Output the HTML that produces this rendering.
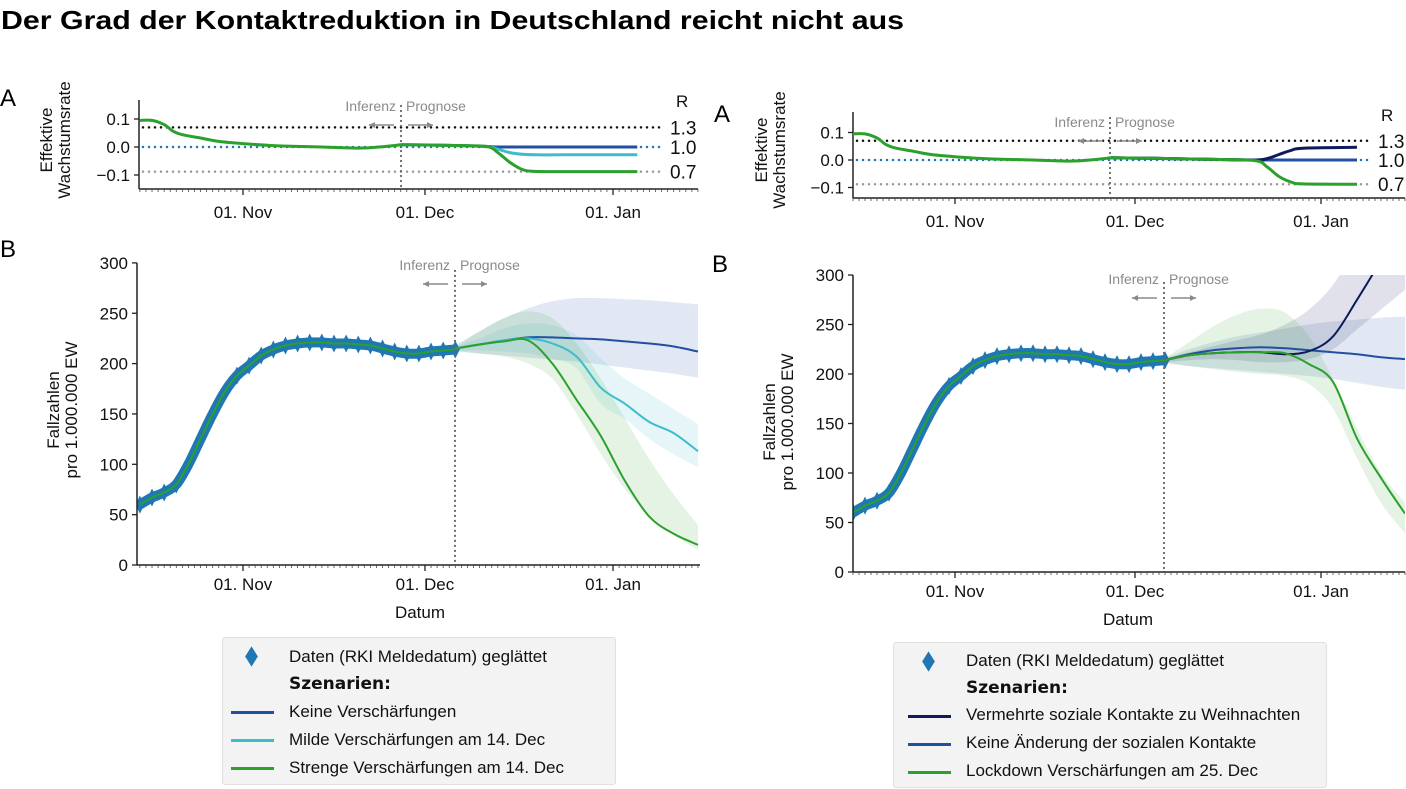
<!DOCTYPE html>
<html><head><meta charset="utf-8">
<style>
body{margin:0;background:#fff;width:1406px;height:789px;overflow:hidden;font-family:"Liberation Sans",sans-serif}
svg{position:absolute;left:0;top:0}
.legend{position:absolute;background:#f3f3f3;border:1px solid #e0e0e0;border-radius:3px;font-size:17px;color:#111}
.row{position:absolute;height:20px;line-height:20px;white-space:nowrap}
.sw{position:absolute;height:3px}
.dia{position:absolute;width:9px;height:9px;background:#1f77b4;transform:scaleY(1.6) rotate(45deg)}
</style></head><body>
<svg id="chart" width="1406" height="789"></svg>

<div class="legend" style="left:222px;top:637px;width:392px;height:146px">
 <div class="dia" style="left:24px;top:14px"></div>
 <div class="row" style="left:66px;top:9px">Daten (RKI Meldedatum) geglättet</div>
 <div class="row" style="left:66px;top:36px;font-family:'DejaVu Sans',sans-serif;font-weight:bold;font-size:17px">Szenarien:</div>
 <div class="sw" style="left:8px;top:73px;width:43px;background:#2150a3"></div>
 <div class="row" style="left:66px;top:64px">Keine Verschärfungen</div>
 <div class="sw" style="left:8px;top:101px;width:43px;background:#3cbccc"></div>
 <div class="row" style="left:66px;top:92px">Milde Verschärfungen am 14. Dec</div>
 <div class="sw" style="left:8px;top:129px;width:43px;background:#2ca02c"></div>
 <div class="row" style="left:66px;top:120px">Strenge Verschärfungen am 14. Dec</div>
</div>

<div class="legend" style="left:893px;top:642px;width:432px;height:144px">
 <div class="dia" style="left:30px;top:14px"></div>
 <div class="row" style="left:72px;top:8px">Daten (RKI Meldedatum) geglättet</div>
 <div class="row" style="left:72px;top:35px;font-family:'DejaVu Sans',sans-serif;font-weight:bold;font-size:17px">Szenarien:</div>
 <div class="sw" style="left:14px;top:72px;width:43px;background:#0d1b5c"></div>
 <div class="row" style="left:72px;top:62px">Vermehrte soziale Kontakte zu Weihnachten</div>
 <div class="sw" style="left:14px;top:100px;width:43px;background:#2150a3"></div>
 <div class="row" style="left:72px;top:90px">Keine Änderung der sozialen Kontakte</div>
 <div class="sw" style="left:14px;top:128px;width:43px;background:#2ca02c"></div>
 <div class="row" style="left:72px;top:118px">Lockdown Verschärfungen am 25. Dec</div>
</div>

<script>
// ---- data (day index: 0 = 15. Oct) ----
const obsDays = [0,2,4,6,8,10,12,14,16,18,20,22,24,26,28,30,32,34,36,38,40,42,44,46,48,50,52];
const obsCases = [60,67,72,80,100,125,150,172,188,198,208,214,218,220,221,221,220,220,219,218,215,212,210,210,212,213,214];
const infDays = [0,2,4,5.5,7,10,13,17,22,30,36,40,43];
const infRate = [0.095,0.095,0.08,0.056,0.044,0.032,0.02,0.012,0.005,0,-0.004,0.001,0.008];

const fDays = [52,56,60,64,68,72,76,80,84,88,92];
const keineL = [215,219,223,226,226,225,224,222,220,217,212];
const mildeL = [215,219,223,225,220,207,176,160,142,131,113];
const strengeL = [215,219,222,223,200,164,128,83,48,31,20];
const keineLUp = [218,232,245,255,262,265,265,264,263,261,259];
const keineLLo = [212,210,208,206,204,202,199,196,193,190,186];
const mildeLUp = [217,225,235,240,238,228,205,185,170,155,140];
const mildeLLo = [213,213,212,210,205,195,160,145,125,110,97];
const strengeLUp = [217,232,245,252,245,220,185,145,105,70,40];
const strengeLLo = [213,210,207,200,185,150,110,75,50,30,15];

const keineR = [214,220,224,226,227,226,224,222,220,217,215];
const navyR = [214,219,221,222,222,220,223,238,275,315,360];
const lockR = [214,219,221,222,222,221,210,192,135,95,59];
const keineRUp = [216,225,232,238,242,246,250,253,255,257,258];
const keineRLo = [211,208,206,204,202,200,198,195,191,187,184];
const navyRUp = [216,222,228,234,240,250,265,290,330,380,420];
const navyRLo = [212,214,215,214,212,212,215,225,245,265,285];
const lockRUp = [216,232,248,260,266,262,238,195,145,100,70];
const lockRLo = [212,208,205,202,200,198,190,165,115,70,39];

const rateDaysL = [43,50,57,59,61,63,65,70,82];
const keineAL = [0.008,0.006,0.002,0,0,0,0,0,0];
const mildeAL = [0.008,0.006,0.002,-0.008,-0.02,-0.026,-0.028,-0.028,-0.028];
const strengeAL = [0.008,0.006,0.002,-0.02,-0.055,-0.08,-0.087,-0.088,-0.088];
const rateDaysR = [43,50,60,67,69,71,73,75,84];
const keineAR = [0.008,0.006,0.002,0,0,0,0,0,0];
const navyAR = [0.008,0.006,0.002,0,0.005,0.02,0.035,0.043,0.046];
const lockAR = [0.008,0.006,0.002,-0.002,-0.025,-0.06,-0.08,-0.087,-0.088];

const rRefRates = [0.07,0,-0.088];
const rRefLabels = ['1.3','1.0','0.7'];
const caseTicks = [0,50,100,150,200,250,300];
const rateTicks = [0.1,0,-0.1];
const rateTickLabels = ['0.1','0.0','\u22120.1'];
const monthDays = [17,47,78];
const monthLabels = ['01. Nov','01. Dec','01. Jan'];

// ---- helpers ----
const NS='http://www.w3.org/2000/svg';
const svg=document.getElementById('chart');
function el(tag,attrs,parent){const e=document.createElementNS(NS,tag);for(const k in attrs)e.setAttribute(k,attrs[k]);(parent||svg).appendChild(e);return e;}
function txt(s,attrs,parent){const e=el('text',attrs,parent);e.textContent=s;return e;}
function pathD(pts){
  let d='M'+pts[0][0].toFixed(1)+','+pts[0][1].toFixed(1);
  for(let i=0;i<pts.length-1;i++){
    const p0=pts[Math.max(0,i-1)],p1=pts[i],p2=pts[i+1],p3=pts[Math.min(pts.length-1,i+2)];
    const c1=[p1[0]+(p2[0]-p0[0])/6,p1[1]+(p2[1]-p0[1])/6];
    const c2=[p2[0]-(p3[0]-p1[0])/6,p2[1]-(p3[1]-p1[1])/6];
    d+=' C'+c1[0].toFixed(1)+','+c1[1].toFixed(1)+' '+c2[0].toFixed(1)+','+c2[1].toFixed(1)+' '+p2[0].toFixed(1)+','+p2[1].toFixed(1);
  }
  return d;
}
function line(days,vals,X,Y,color,w,name,g){
  const p=el('path',{d:pathD(days.map((d,i)=>[X(d),Y(vals[i])])),fill:'none',stroke:color,'stroke-width':w,'stroke-linejoin':'round'},g);
  
  
  return p;
}
function band(days,up,lo,X,Y,color,op,name,g){
  const top=days.map((d,i)=>[X(d),Y(up[i])]);
  const bot=days.map((d,i)=>[X(d),Y(lo[i])]).reverse();
  const d=pathD(top)+' L'+pathD(bot).slice(1)+' Z';
  const p=el('path',{d:d,fill:color,'fill-opacity':op,stroke:'none'},g);
  
  
}
function xAxis(X,x0,x1,y,endDay,labelY,prefix){
  el('line',{x1:x0,y1:y,x2:x1,y2:y,stroke:'#222','stroke-width':1.5});
  for(let d=0;d<=endDay;d++){const x=X(d);if(x<x0||x>x1)continue;el('line',{x1:x,y1:y,x2:x,y2:y+3,stroke:'#444','stroke-width':0.8});}
  monthDays.forEach((d,i)=>{
    el('line',{x1:X(d),y1:y,x2:X(d),y2:y+6,stroke:'#222','stroke-width':1.3});
    const t=txt(monthLabels[i],{x:X(d),y:labelY,'text-anchor':'middle','font-size':17,fill:'#111'});
    
    
  });
}
function divider(x,y0,y1,ty,prefix){
  el('line',{x1:x,y1:y0,x2:x,y2:y1,stroke:'#666','stroke-width':2.2,'stroke-dasharray':'0 5','stroke-linecap':'round'});
  const a=txt('Inferenz',{x:x-5,y:ty,'text-anchor':'end','font-size':14,fill:'#8a8a8a'});
  
  
  const b=txt('Prognose',{x:x+5,y:ty,'font-size':14,fill:'#8a8a8a'});
  
  
  const ay=ty+14;
  el('line',{x1:x-7,y1:ay,x2:x-32,y2:ay,stroke:'#8a8a8a','stroke-width':1.5});
  el('path',{d:`M${x-32},${ay} l6,-3 v6 z`,fill:'#8a8a8a'});
  el('line',{x1:x+7,y1:ay,x2:x+32,y2:ay,stroke:'#8a8a8a','stroke-width':1.5});
  el('path',{d:`M${x+32},${ay} l-6,-3 v6 z`,fill:'#8a8a8a'});
}
function ylabel(lines,cx,cy,name){
  const g=el('g',{transform:`translate(${cx},${cy}) rotate(-90)`});
  
  
  lines.forEach((s,i)=>txt(s,{x:0,y:(i-(lines.length-1)/2)*18+6,'text-anchor':'middle','font-size':17,fill:'#111'},g));
}

// title
const title=txt('Der Grad der Kontaktreduktion in Deutschland reicht nicht aus',{x:1,y:29,'font-size':26,'font-weight':'bold',fill:'#000',textLength:903,lengthAdjust:'spacingAndGlyphs'});



// ---- rate panel ----
function ratePanel(o){
  const X=d=>o.xNov+(d-17)*o.pxDay, Y=v=>o.y0-v*o.pxUnit;
  const p=o.prefix;
  const pl=txt('A',{x:o.letterX,y:o.letterY,'font-size':24,fill:'#000'});
  
  
  ylabel(['Effektive','Wachstumsrate'],o.ylabX,o.ylabY,p+'-y-axis-title');
  const refCol=['#111','#1f77b4','#999'];
  rRefRates.forEach((r,i)=>{
    el('line',{x1:o.xl+4,y1:Y(r),x2:o.refEnd,y2:Y(r),stroke:refCol[i],'stroke-width':2.5,'stroke-dasharray':'0 6','stroke-linecap':'round'});
    const t=txt(rRefLabels[i],{x:o.refEnd+6,y:Y(r)+7,'font-size':19,fill:'#111'});
    
    
  });
  const rt=txt('R',{x:o.rX,y:o.rY,'font-size':17,fill:'#111'});
  
  
  el('line',{x1:o.xl,y1:o.yTop,x2:o.xl,y2:o.yBot,stroke:'#222','stroke-width':1.5});
  rateTicks.forEach((v,i)=>{
    el('line',{x1:o.xl-5,y1:Y(v),x2:o.xl,y2:Y(v),stroke:'#222','stroke-width':1.3});
    const t=txt(rateTickLabels[i],{x:o.xl-9,y:Y(v)+6,'text-anchor':'end','font-size':17,fill:'#111'});
    
    
  });
  xAxis(X,o.xl,o.xr,o.yBot,95,o.yBot+29,p);
  divider(o.divX,o.yTop+6,o.yBot,o.divTY,p);
  o.series.forEach(s=>line(o.days,s.v,X,Y,s.c,3,s.n));
  line(infDays,infRate,X,Y,'#2ca02c',3,p+'-inference-line');
}
ratePanel({prefix:'left-rate',xNov:243,pxDay:6.066,y0:147,pxUnit:280,xl:139,xr:698,yTop:100,yBot:189,refEnd:664,rX:676,rY:107,letterX:0,letterY:106,ylabX:55,ylabY:140,divX:401,divTY:111,days:rateDaysL,
  series:[{v:keineAL,c:'#2150a3',n:'rate-line-keine'},{v:mildeAL,c:'#3cbccc',n:'rate-line-milde'},{v:strengeAL,c:'#2ca02c',n:'rate-line-strenge'}]});
ratePanel({prefix:'right-rate',xNov:955,pxDay:6.0,y0:160,pxUnit:275,xl:853,xr:1405,yTop:112,yBot:198,refEnd:1372,rX:1381,rY:121,letterX:714,letterY:122,ylabX:770,ylabY:150,divX:1110,divTY:127,days:rateDaysR,
  series:[{v:keineAR,c:'#2150a3',n:'rate-line-keine-aenderung'},{v:navyAR,c:'#0d1b5c',n:'rate-line-vermehrt'},{v:lockAR,c:'#2ca02c',n:'rate-line-lockdown'}]});

// ---- case panel ----
function casePanel(o){
  const X=d=>o.xNov+(d-17)*o.pxDay, Y=v=>o.y0-v*o.pxUnit;
  const p=o.prefix;
  const pl=txt('B',{x:o.letterX,y:o.letterY,'font-size':24,fill:'#000'});
  
  
  ylabel(['Fallzahlen','pro 1.000.000 EW'],o.ylabX,o.ylabY,p+'-y-axis-title');
  const cid=p+'-clip';
  const cp=el('clipPath',{id:cid});
  el('rect',{x:o.xl,y:Y(300),width:o.xr-o.xl,height:Y(0)-Y(300)},cp);
  const g=el('g',{'clip-path':`url(#${cid})`});
  o.bands.forEach(b=>band(fDays,b.u,b.l,X,Y,b.c,0.13,b.n,g));
  line(obsDays,obsCases,X,Y,'#1f77b4',10,p+'-observed-data',g);
  obsDays.forEach((d,i)=>{
    const m=el('path',{d:`M${X(d)},${Y(obsCases[i])-9} l4.5,9 l-4.5,9 l-4.5,-9 z`,fill:'#1f77b4'},g);
    
    
  });
  line(obsDays,obsCases,X,Y,'#2ca02c',2,p+'-smoothed-line',g);
  o.series.forEach(s=>line(fDays,s.v,X,Y,s.c,2,s.n,g));
  el('line',{x1:o.xl,y1:Y(300),x2:o.xl,y2:Y(0),stroke:'#222','stroke-width':1.5});
  caseTicks.forEach(v=>{
    el('line',{x1:o.xl-5,y1:Y(v),x2:o.xl,y2:Y(v),stroke:'#222','stroke-width':1.3});
    const t=txt(String(v),{x:o.xl-9,y:Y(v)+6,'text-anchor':'end','font-size':17,fill:'#111'});
    
    
  });
  xAxis(X,o.xl,o.xr,Y(0),95,Y(0)+25,p);
  const dt=txt('Datum',{x:o.datX,y:Y(0)+53,'text-anchor':'middle','font-size':17,fill:'#111'});
  
  
  divider(o.divX,Y(300)+8,Y(0),o.divTY,p);
}
casePanel({prefix:'left-cases',xNov:243,pxDay:6.066,y0:565,pxUnit:1.007,xl:137,xr:700,letterX:0,letterY:257,ylabX:62,ylabY:410,datX:420,divX:455,divTY:270,
  bands:[{u:keineLUp,l:keineLLo,c:'#2150a3',n:'band-keine'},{u:mildeLUp,l:mildeLLo,c:'#3cbccc',n:'band-milde'},{u:strengeLUp,l:strengeLLo,c:'#2ca02c',n:'band-strenge'}],
  series:[{v:keineL,c:'#2150a3',n:'line-keine'},{v:mildeL,c:'#3cbccc',n:'line-milde'},{v:strengeL,c:'#2ca02c',n:'line-strenge'}]});
casePanel({prefix:'right-cases',xNov:955,pxDay:6.0,y0:572,pxUnit:0.99,xl:853,xr:1405,letterX:712,letterY:272,ylabX:778,ylabY:422,datX:1128,divX:1164,divTY:284,
  bands:[{u:keineRUp,l:keineRLo,c:'#2150a3',n:'band-keine-aenderung'},{u:navyRUp,l:navyRLo,c:'#0d1b5c',n:'band-vermehrt'},{u:lockRUp,l:lockRLo,c:'#2ca02c',n:'band-lockdown'}],
  series:[{v:keineR,c:'#2150a3',n:'line-keine-aenderung'},{v:navyR,c:'#0d1b5c',n:'line-vermehrt'},{v:lockR,c:'#2ca02c',n:'line-lockdown'}]});
</script>
</body></html>
